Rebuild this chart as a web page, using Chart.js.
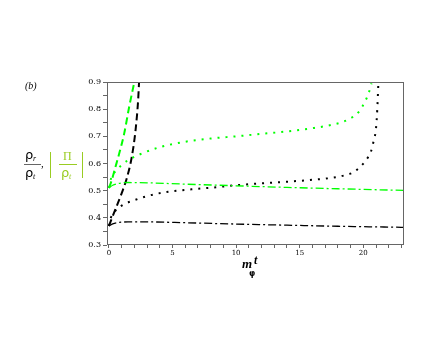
<!DOCTYPE html>
<html>
<head>
<meta charset="utf-8">
<script src="https://cdn.jsdelivr.net/npm/chart.js@4.4.1/dist/chart.umd.min.js"></script>
<style>
  html, body { margin: 0; padding: 0; background: #fff; }
  #wrap { width: 436px; height: 354px; }
</style>
</head>
<body>
<div id="wrap"><canvas id="plot" width="436" height="354"></canvas></div>
<script>
// valores (m_phi t, cociente)
const T_DASH_G = [0, 0.2, 0.5, 0.8, 1.2, 1.6, 2.0];
const Y_DASH_G = [0.51, 0.535, 0.585, 0.635, 0.71, 0.81, 0.9];

const T_DASH_K = [0, 0.5, 1.0, 1.4, 1.8, 2.1, 2.3, 2.37];
const Y_DASH_K = [0.37, 0.43, 0.49, 0.545, 0.625, 0.725, 0.835, 0.9];

const T_DOT_G = [0, 0.2, 0.5, 0.9, 1.5, 2.5, 4, 6, 8, 10, 12, 14, 16, 17.5, 18.5, 19.2, 19.7, 20.1, 20.4, 20.65];
const Y_DOT_G = [0.51, 0.55, 0.57, 0.59, 0.612, 0.635, 0.66, 0.68, 0.692, 0.70, 0.709, 0.718, 0.73, 0.742, 0.755, 0.772, 0.793, 0.825, 0.856, 0.895];

const T_DOT_K = [0, 0.15, 0.4, 1, 2, 3, 4.5, 6.5, 8.5, 10, 12, 14, 16, 17.5, 18.5, 19.2, 19.7, 20.1, 20.4, 20.6, 20.8, 21.0, 21.1, 21.18];
const Y_DOT_K = [0.37, 0.40, 0.42, 0.445, 0.465, 0.48, 0.495, 0.505, 0.513, 0.52, 0.527, 0.533, 0.54, 0.547, 0.556, 0.567, 0.585, 0.605, 0.625, 0.644, 0.68, 0.73, 0.8, 0.89];

const T_DD = [0, 0.3, 0.8, 1.5, 3, 6, 10, 14, 18, 23.2];
const Y_DD_G = [0.51, 0.52, 0.527, 0.53, 0.529, 0.524, 0.518, 0.512, 0.507, 0.501];
const Y_DD_K = [0.37, 0.378, 0.383, 0.385, 0.385, 0.382, 0.377, 0.373, 0.369, 0.365];

const X_MIN = -0.15, X_MAX = 23.2;
const Y_MIN = 0.3, Y_MAX = 0.9;

const GREEN = '#00ff00';
const LABEL_GREEN = '#99cc22';

const pts = (xs, ys) => xs.map((x, i) => ({ x, y: ys[i] }));

function serie(xs, ys, color, dash, width) {
  return {
    data: pts(xs, ys), borderColor: color, borderDash: dash, borderWidth: width,
    pointRadius: 0, fill: false, cubicInterpolationMode: 'monotone', borderCapStyle: 'butt',
  };
}

const DASH = [7, 4], DOT = [2, 6], DASHDOT = [8, 3, 2, 3];

// etiquetas y marco, dibujados a mano
const extras = {
  id: 'extras',
  afterDraw(chart) {
    const { ctx, chartArea: a } = chart;
    ctx.save();
    ctx.strokeStyle = '#666';
    ctx.lineWidth = 1;
    ctx.strokeRect(a.left + 0.5, a.top + 0.5, a.right - a.left - 1, a.bottom - a.top - 1);

    ctx.fillStyle = '#000';
    ctx.textBaseline = 'alphabetic';
    ctx.font = 'italic 10px "Liberation Serif"';
    ctx.fillText('(b)', 25, 89);

    // rho_r / rho_t
    ctx.font = '13px "DejaVu Sans"';
    ctx.fillText('ρ', 25, 159);
    ctx.fillText('ρ', 25, 177);
    ctx.font = 'italic 8px "Liberation Serif"';
    ctx.fillText('r', 33, 161);
    ctx.fillText('t', 33, 179);
    ctx.beginPath(); ctx.moveTo(24, 164.5); ctx.lineTo(41, 164.5); ctx.stroke();
    ctx.font = '11px "Liberation Serif"';
    ctx.fillText(',', 41, 167);

    // |Pi / rho_t|
    ctx.strokeStyle = LABEL_GREEN; ctx.fillStyle = LABEL_GREEN;
    ctx.beginPath();
    ctx.moveTo(50.5, 152); ctx.lineTo(50.5, 178);
    ctx.moveTo(82.5, 152); ctx.lineTo(82.5, 178);
    ctx.moveTo(59, 164.5); ctx.lineTo(77, 164.5);
    ctx.stroke();
    ctx.font = '12px "Liberation Serif"';
    ctx.fillText('Π', 63, 160);
    ctx.font = '13px "DejaVu Sans"';
    ctx.fillText('ρ', 61, 177);
    ctx.font = 'italic 8px "Liberation Serif"';
    ctx.fillText('t', 69, 179);

    // m_phi t
    ctx.fillStyle = '#000';
    ctx.font = 'bold italic 13px "Liberation Serif"';
    ctx.fillText('m', 242, 268);
    ctx.font = 'bold italic 12px "Liberation Serif"';
    ctx.fillText('t', 254, 264);
    ctx.font = 'bold 8px "DejaVu Sans"';
    ctx.fillText('φ', 249, 276);
    ctx.restore();
  },
};

new Chart(document.getElementById('plot'), {
  type: 'line',
  data: {
    datasets: [
      serie(T_DD, Y_DD_K, '#000', DASHDOT, 1.3),
      serie(T_DD, Y_DD_G, GREEN, DASHDOT, 1.3),
      serie(T_DOT_K, Y_DOT_K, '#000', DOT, 2),
      serie(T_DOT_G, Y_DOT_G, GREEN, DOT, 2),
      serie(T_DASH_K, Y_DASH_K, '#000', DASH, 2),
      serie(T_DASH_G, Y_DASH_G, GREEN, DASH, 2),
    ],
  },
  options: {
    responsive: false,
    animation: false,
    layout: { padding: { top: 82, right: 32, bottom: 0, left: 0 } },
    plugins: { legend: { display: false }, tooltip: { enabled: false } },
    scales: {
      x: {
        type: 'linear', min: X_MIN, max: X_MAX,
        afterFit: (s) => { s.height = 109; },
        border: { display: false },
        grid: { drawOnChartArea: false, tickLength: 3, tickColor: '#666' },
        ticks: {
          stepSize: 1, includeBounds: false, autoSkip: false, maxRotation: 0, padding: 1,
          color: '#000', font: { family: 'DejaVu Serif', size: 7 },
          callback: (v) => (Math.round(v) % 5 === 0 ? String(Math.round(v)) : ''),
        },
      },
      y: {
        min: Y_MIN, max: Y_MAX,
        afterFit: (s) => { s.width = 107; },
        border: { display: false },
        grid: { drawOnChartArea: false, tickLength: 4, tickColor: '#666' },
        ticks: {
          stepSize: 0.05, autoSkip: false, padding: 2,
          color: '#000', font: { family: 'DejaVu Serif', size: 8 },
          callback: (v) => (Math.abs(v * 10 - Math.round(v * 10)) < 1e-6 ? v.toFixed(1) : ''),
        },
      },
    },
  },
  plugins: [extras],
});
</script>
</body>
</html>
